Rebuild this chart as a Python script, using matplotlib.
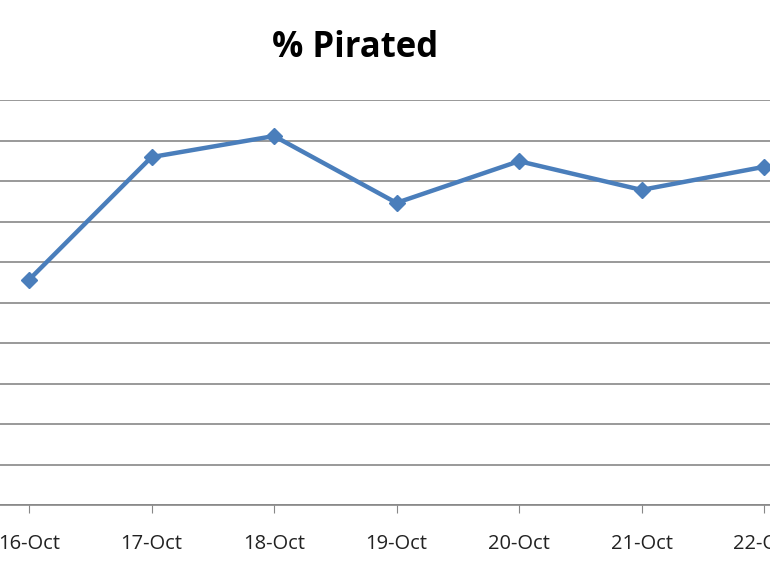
import matplotlib.pyplot as plt
import numpy as np

dates = ['16-Oct', '17-Oct', '18-Oct', '19-Oct', '20-Oct', '21-Oct', '22-Oct']
pirated = [55.6, 85.9, 91.1, 74.6, 84.9, 77.8, 83.5]

fig = plt.figure(figsize=(7.7, 5.78), dpi=100)
# axes run past the left/right edges, like the cropped screenshot
ax = fig.add_axes([0, 73 / 578, 1, 405 / 578])

x = np.arange(len(dates))
ax.plot(x, pirated, color='#4a7ebb', linewidth=3.2, marker='D', markersize=8.5,
        markeredgecolor='#4a7ebb', markerfacecolor='#4a7ebb')

ax.set_xlim(-29 / 122.5, 6 + 6 / 122.5)
ax.set_ylim(0, 100)
ax.set_yticks(np.arange(0, 101, 10))
ax.yaxis.grid(True, color='#878787', linewidth=1.2)
ax.set_axisbelow(True)
ax.tick_params(axis='y', left=False, labelleft=False)

ax.set_xticks(x)
ax.set_xticklabels(dates, fontsize=14.5, family=['Open Sans', 'DejaVu Sans'], color='#222222')
ax.tick_params(axis='x', direction='out', length=6, color='#878787', pad=15)

for s in ['top', 'right', 'left']:
    ax.spines[s].set_visible(False)
ax.spines['bottom'].set_color('#878787')
ax.spines['bottom'].set_linewidth(1.2)

fig.text(355 / 770, 1 - 48 / 578, '% Pirated', ha='center', va='center',
         fontsize=25, fontweight='bold', family=['Open Sans', 'DejaVu Sans'])

fig.savefig('out.png', dpi=100)
